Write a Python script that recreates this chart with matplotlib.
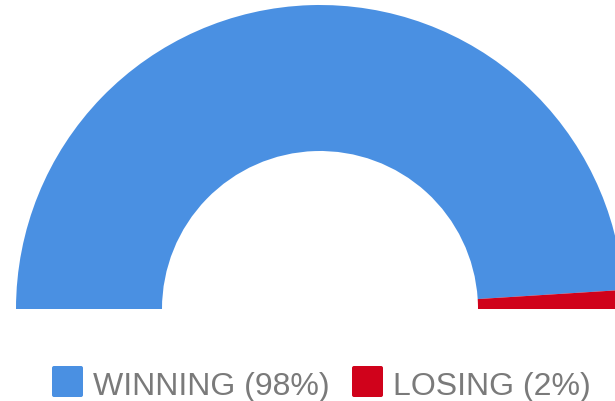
import matplotlib.pyplot as plt
from matplotlib.patches import FancyBboxPatch

# data
labels = ["WINNING", "LOSING"]
shares = [98, 2]
colors = ["#4a90e2", "#d0021b"]

W, H = 615, 402
fig = plt.figure(figsize=(W / 100, H / 100), dpi=100)
ax = fig.add_axes([0, 0, 1, 1])

# half donut: the visible half plus an invisible half underneath
center = (320, H - 310)
outer, inner = 304, 158
wedges, _ = ax.pie(
    shares + [sum(shares)],
    colors=colors + ["none"],
    startangle=180,
    counterclock=False,
    radius=outer,
    center=center,
    frame=True,
    wedgeprops=dict(width=outer - inner, linewidth=0),
)

ax.set_xlim(0, W)
ax.set_ylim(0, H)
ax.set_aspect("equal")
ax.axis("off")

# legend drawn by hand
legend_x = [52, 352]
box = 31
box_bottom = H - 398
baseline = H - 395
for x, lab, val, col in zip(legend_x, labels, shares, colors):
    ax.add_patch(
        FancyBboxPatch(
            (x, box_bottom), box, box,
            boxstyle="round,pad=0,rounding_size=2",
            facecolor=col, edgecolor="none",
        )
    )
    ax.text(
        x + box + 10, baseline, f"{lab} ({val}%)",
        fontsize=23, family="Liberation Sans", color="#7a7a7a",
        va="baseline", ha="left",
    )

fig.savefig("out.png", dpi=100)
